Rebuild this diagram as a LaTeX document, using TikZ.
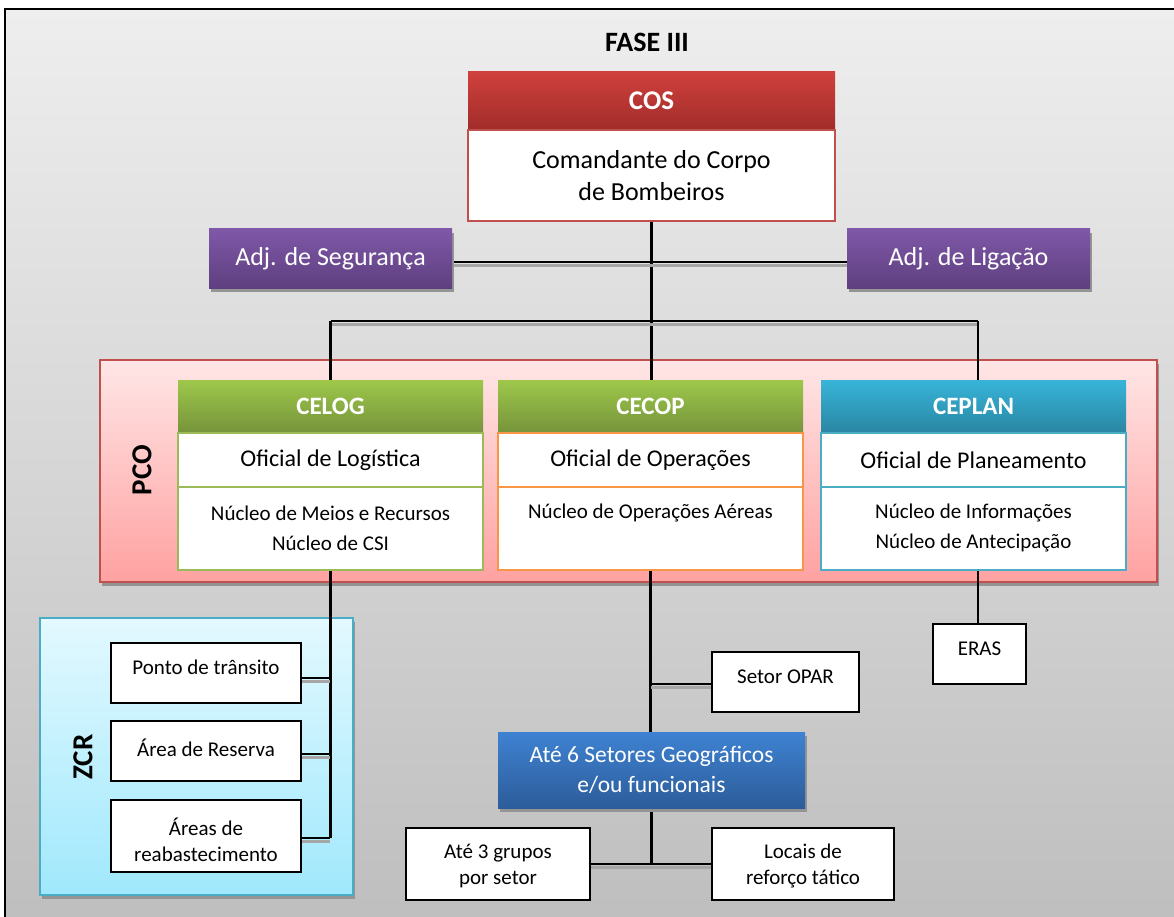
\documentclass[tikz,border=0pt]{standalone}
\usepackage{fontspec}
\setmainfont{Carlito}
\usetikzlibrary{shadows}

\definecolor{bgtop}{HTML}{EEEEEE}
\definecolor{bgbot}{HTML}{BEBEBE}
\definecolor{costop}{HTML}{CF413D}
\definecolor{cosbot}{HTML}{A12C29}
\definecolor{redline}{HTML}{C0504D}
\definecolor{adjtop}{HTML}{7F58A8}
\definecolor{adjbot}{HTML}{5E3F7F}
\definecolor{grntop}{HTML}{9DC84A}
\definecolor{grnbot}{HTML}{76933B}
\definecolor{grnline}{HTML}{9BBB59}
\definecolor{orgline}{HTML}{F79646}
\definecolor{blutop}{HTML}{37B4D9}
\definecolor{blubot}{HTML}{2A86A2}
\definecolor{bluline}{HTML}{4BACC6}
\definecolor{pcotop}{HTML}{FFE6E6}
\definecolor{pcobot}{HTML}{FFA1A1}
\definecolor{zcrtop}{HTML}{E3F9FF}
\definecolor{zcrbot}{HTML}{A0E8FC}
\definecolor{settop}{HTML}{3E82D2}
\definecolor{setbot}{HTML}{2D5C9A}

\pgfdeclarelayer{bg}
\pgfdeclarelayer{lines}
\pgfsetlayers{bg,lines,main}

\tikzset{
  every node/.style={inner sep=0pt, outer sep=0pt},
  boxshadow/.style={drop shadow={opacity=1, fill=black!42, shadow xshift=1.5pt, shadow yshift=-4pt}},
  hdr/.style={text=white, font=\bfseries\fontsize{25}{30}\selectfont},
  adjbox/.style={boxshadow, top color=adjtop, bottom color=adjbot, minimum width=243pt,
    minimum height=59pt, text=white, font=\fontsize{26}{32}\selectfont},
  cellbox/.style={fill=white, line width=2.5pt, minimum width=305pt},
  whitebox/.style={draw=black, fill=white, line width=2.2pt},
  big/.style={font=\fontsize{24}{30}\selectfont, align=center},
  mid/.style={font=\fontsize{21}{30}\selectfont, align=center},
  small/.style={font=\fontsize{21}{26}\selectfont, align=center},
  vlabel/.style={rotate=90, font=\bfseries\fontsize{29}{34}\selectfont},
  conn/.style={draw=black, line width=2.6pt},
  lshadow/.style={preaction={draw=black!35, line width=3pt, transform canvas={yshift=-3pt}}},
}

\begin{document}
\begin{tikzpicture}[x=1pt,y=-1pt]
\useasboundingbox (0,0) rectangle (1174,917);

% page backdrop, frame and the two container panels
\begin{pgfonlayer}{bg}
\fill[white] (0,0) rectangle (1174,917);
\shade[top color=bgtop, bottom color=bgbot] (5,9) rectangle (1184,927);
\draw[line width=2pt] (5,927) -- (5,9) -- (1184,9);

\node[boxshadow, draw=redline, line width=2pt, top color=pcotop, bottom color=pcobot,
  minimum width=1057pt, minimum height=222pt] (pco) at (628.5,471) {};
\node[vlabel] (pco-l) at (142,470) {PCO};

\node[boxshadow, draw=bluline, line width=2pt, top color=zcrtop, bottom color=zcrbot,
  minimum width=313pt, minimum height=277pt] (zcr) at (196.5,756.5) {};
\node[vlabel] (zcr-l) at (83,757) {ZCR};
\end{pgfonlayer}

\node[font=\bfseries\fontsize{28}{34}\selectfont] (title) at (647,42) {FASE III};

% commander
\node[top color=costop, bottom color=cosbot, minimum width=367pt, minimum height=58pt,
  text=white, font=\bfseries\fontsize{27}{32}\selectfont] (cos-h) at (651.5,101) {COS};
\node[draw=redline, fill=white, line width=2.5pt, minimum width=367pt, minimum height=91pt,
  font=\fontsize{26}{32}\selectfont, align=center] (cos-b) at (651.5,175.5) {Comandante do Corpo\\de Bombeiros};

% adjuncts
\node[adjbox] (seg) at (330.5,258.5) {Adj. de Segurança};
\node[adjbox] (lig) at (968.5,258.5) {Adj. de Ligação};

% CELOG
\node[hdr, top color=grntop, bottom color=grnbot, minimum width=305pt, minimum height=53pt] (celog-h) at (330.5,406.5) {CELOG};
\node[cellbox, draw=grnline, minimum height=54pt, big] (celog-o) at (330.5,460) {Oficial de Logística};
\node[cellbox, draw=grnline, minimum height=83pt] (celog-b) at (330.5,528.5) {};
\node[mid] (celog-t) at (330.5,528) {Núcleo de Meios e Recursos\\Núcleo de CSI};

% CECOP
\node[hdr, top color=grntop, bottom color=grnbot, minimum width=305pt, minimum height=53pt] (cecop-h) at (650.5,406.5) {CECOP};
\node[cellbox, draw=orgline, minimum height=54pt, big] (cecop-o) at (650.5,460) {Oficial de Operações};
\node[cellbox, draw=orgline, minimum height=83pt] (cecop-b) at (650.5,528.5) {};
\node[mid] (cecop-t) at (650.5,513) {Núcleo de Operações Aéreas};

% CEPLAN
\node[hdr, top color=blutop, bottom color=blubot, minimum width=305pt, minimum height=53pt] (ceplan-h) at (973.5,406.5) {CEPLAN};
\node[cellbox, draw=bluline, minimum height=54pt, big] (ceplan-o) at (973.5,460) {Oficial de Planeamento};
\node[cellbox, draw=bluline, minimum height=83pt] (ceplan-b) at (973.5,528.5) {};
\node[mid] (ceplan-t) at (973.5,528) {Núcleo de Informações\\Núcleo de Antecipação};

% rear zone items
\node[whitebox, minimum width=190pt, minimum height=60pt] (ponto) at (206,673) {};
\node[small] (ponto-t) at (206,667) {Ponto de trânsito};
\node[whitebox, minimum width=190pt, minimum height=60pt] (reserva) at (206,751) {};
\node[small] (reserva-t) at (206,748) {Área de Reserva};
\node[whitebox, minimum width=190pt, minimum height=72pt] (areas) at (206,836) {};
\node[small] (areas-t) at (206,840) {Áreas de\\reabastecimento};

% dependent elements
\node[whitebox, minimum width=93pt, minimum height=60pt] (eras) at (979.5,654) {};
\node[small] (eras-t) at (979.5,649) {ERAS};
\node[whitebox, minimum width=147pt, minimum height=60pt] (opar) at (785.5,682) {};
\node[small] (opar-t) at (785.5,677) {Setor OPAR};

\node[boxshadow, top color=settop, bottom color=setbot, minimum width=307pt, minimum height=76pt,
  text=white, font=\fontsize{23.5}{30}\selectfont, align=center] (setores) at (651.5,770) {Até 6 Setores Geográficos\\e/ou funcionais};

\node[whitebox, minimum width=184pt, minimum height=72pt] (grupos) at (498,864) {};
\node[small] (grupos-t) at (498,866) {Até 3 grupos\\por setor};
\node[whitebox, minimum width=182pt, minimum height=72pt] (locais) at (803,864) {};
\node[small] (locais-t) at (803,866) {Locais de\\reforço tático};

% connectors
\begin{pgfonlayer}{lines}
\coordinate (busr) at (978,321);
\coordinate (zend) at (330,838);
\coordinate (bend) at (651,864);

\draw[conn] (cos-b.south) -- (cos-b.south |- cecop-h.north);
\draw[conn, lshadow] ([yshift=-3.5pt]seg.east) -- ([yshift=-3.5pt]lig.west);
\draw[conn, lshadow] (celog-h.north |- busr) -- (busr);
\draw[conn] (celog-h.north) -- (celog-h.north |- busr);
\draw[conn] (busr) -- (busr |- ceplan-h.north);

\draw[conn] (celog-b.south) -- (celog-b.south |- zend);
\draw[conn, lshadow] ([yshift=-5pt]ponto.east) -- ([yshift=-5pt]ponto.east -| zend);
\draw[conn, lshadow] ([yshift=-3pt]reserva.east) -- ([yshift=-3pt]reserva.east -| zend);
\draw[conn, lshadow] ([yshift=-2pt]areas.east) -- ([yshift=-2pt]areas.east -| zend);

\draw[conn] (eras.north -| busr) -- (busr |- ceplan-b.south);
\draw[conn] (cecop-b.south) -- (cecop-b.south |- setores.north);
\draw[conn, lshadow] ([yshift=-2pt]opar.west) -- ([yshift=-2pt]opar.west -| cecop-b.south);
\draw[conn] (setores.south) -- (setores.south |- bend);
\draw[conn, lshadow] (grupos.east) -- (locais.west);
\end{pgfonlayer}
\end{tikzpicture}
\end{document}
